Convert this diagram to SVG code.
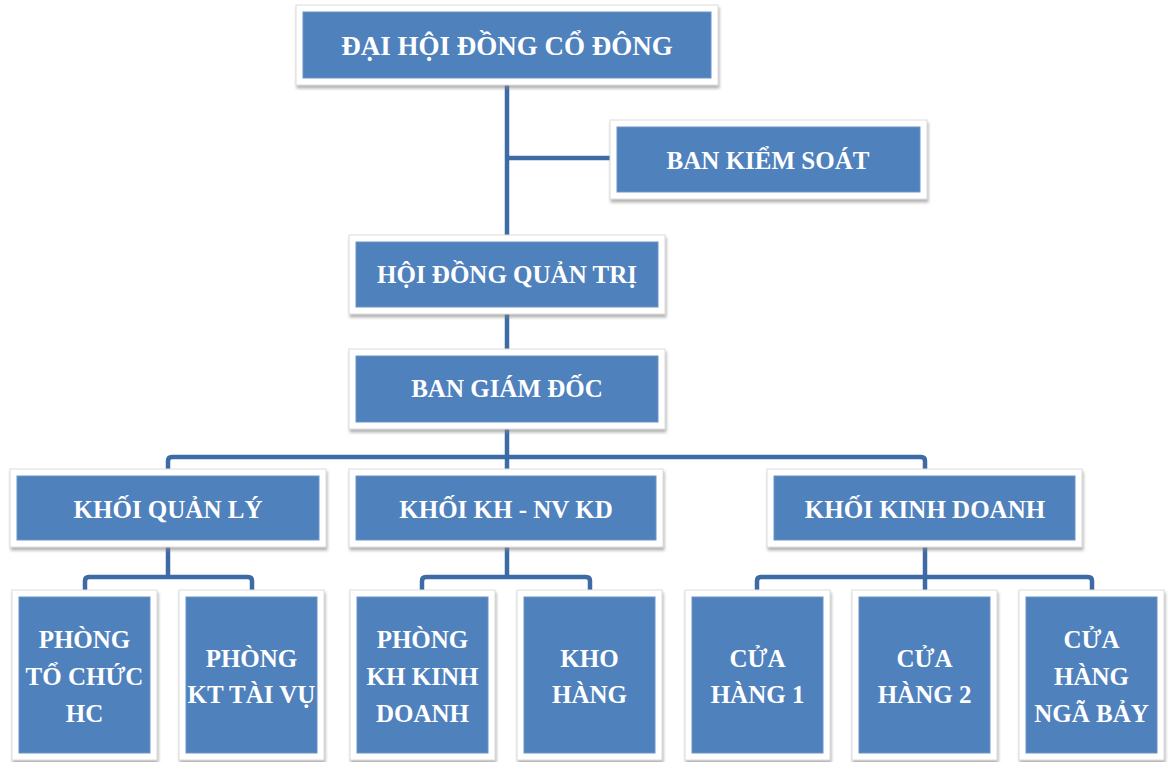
<svg xmlns="http://www.w3.org/2000/svg" width="1170" height="762" viewBox="0 0 1170 762">
<defs>
<filter id="sh" x="-10%" y="-10%" width="120%" height="130%">
<feDropShadow dx="1" dy="3" stdDeviation="1.5" flood-color="#808080" flood-opacity="0.6"/>
</filter>
<style>
.fr{fill:#ffffff;stroke:#dcdcdc;stroke-width:1;filter:url(#sh)}
.bx{fill:#4f81bd;stroke:#6b95c8;stroke-width:1}
.t{fill:#ffffff;font-family:"Liberation Serif","Times New Roman",serif;font-weight:bold;font-size:25px;text-anchor:middle}
.c{fill:none;stroke:#3c6ba5;stroke-width:4.5;stroke-linejoin:round;stroke-linecap:butt}
</style>
</defs>
<rect width="1170" height="762" fill="#ffffff"/>
<g id="connectors">
<path class="c" d="M507,84 V238"/>
<path class="c" d="M507,158 H612"/>
<path class="c" d="M507,312 V352"/>
<path class="c" d="M507,426 V470"/>
<path class="c" d="M168,470 V461 Q168,457 172,457 H921 Q925,457 925,461 V470"/>
<path class="c" d="M168,545 V577"/>
<path class="c" d="M85,592 V581 Q85,577 89,577 H248 Q252,577 252,581 V592"/>
<path class="c" d="M507,545 V577"/>
<path class="c" d="M422,592 V581 Q422,577 426,577 H586 Q590,577 590,581 V592"/>
<path class="c" d="M925,545 V592"/>
<path class="c" d="M757,592 V581 Q757,577 761,577 H1088 Q1092,577 1092,581 V592"/>
</g>
<g id="n1">
<rect class="fr" x="296" y="5" width="422" height="80"/>
<rect class="bx" x="303" y="12" width="408" height="66"/>
<text class="t" x="507" y="55" style="font-size:27px">ĐẠI HỘI ĐỒNG CỔ ĐÔNG</text>
</g>
<g id="n2">
<rect class="fr" x="610" y="120" width="317" height="79"/>
<rect class="bx" x="617" y="127" width="303" height="65"/>
<text class="t" x="768" y="169">BAN KIỂM SOÁT</text>
</g>
<g id="n3">
<rect class="fr" x="349" y="235" width="316" height="79"/>
<rect class="bx" x="356" y="242" width="302" height="65"/>
<text class="t" x="507" y="283">HỘI ĐỒNG QUẢN TRỊ</text>
</g>
<g id="n4">
<rect class="fr" x="349" y="349" width="316" height="80"/>
<rect class="bx" x="356" y="356" width="302" height="66"/>
<text class="t" x="507" y="397">BAN GIÁM ĐỐC</text>
</g>
<g id="n5">
<rect class="fr" x="10" y="469" width="316" height="78"/>
<rect class="bx" x="17" y="476" width="302" height="64"/>
<text class="t" x="168" y="518">KHỐI QUẢN LÝ</text>
</g>
<g id="n6">
<rect class="fr" x="349" y="469" width="314" height="78"/>
<rect class="bx" x="356" y="476" width="300" height="64"/>
<text class="t" x="506" y="518">KHỐI KH - NV KD</text>
</g>
<g id="n7">
<rect class="fr" x="767" y="469" width="315" height="78"/>
<rect class="bx" x="774" y="476" width="301" height="64"/>
<text class="t" x="925" y="518">KHỐI KINH DOANH</text>
</g>
<g id="n8">
<rect class="fr" x="12" y="590" width="145" height="170"/>
<rect class="bx" x="19" y="597" width="131" height="156"/>
<text class="t" x="84.5" y="648">PHÒNG</text>
<text class="t" x="84.5" y="685">TỔ CHỨC</text>
<text class="t" x="84.5" y="722">HC</text>
</g>
<g id="n9">
<rect class="fr" x="179" y="590" width="145" height="170"/>
<rect class="bx" x="186" y="597" width="131" height="156"/>
<text class="t" x="251.5" y="667">PHÒNG</text>
<text class="t" x="251.5" y="703">KT TÀI VỤ</text>
</g>
<g id="n10">
<rect class="fr" x="350" y="590" width="145" height="170"/>
<rect class="bx" x="357" y="597" width="131" height="156"/>
<text class="t" x="422.5" y="648">PHÒNG</text>
<text class="t" x="422.5" y="685">KH KINH</text>
<text class="t" x="422.5" y="722">DOANH</text>
</g>
<g id="n11">
<rect class="fr" x="517" y="590" width="145" height="170"/>
<rect class="bx" x="524" y="597" width="131" height="156"/>
<text class="t" x="589.5" y="667">KHO</text>
<text class="t" x="589.5" y="703">HÀNG</text>
</g>
<g id="n12">
<rect class="fr" x="685" y="590" width="145" height="170"/>
<rect class="bx" x="692" y="597" width="131" height="156"/>
<text class="t" x="757.5" y="667">CỬA</text>
<text class="t" x="757.5" y="703">HÀNG 1</text>
</g>
<g id="n13">
<rect class="fr" x="852" y="590" width="145" height="170"/>
<rect class="bx" x="859" y="597" width="131" height="156"/>
<text class="t" x="924.5" y="667">CỬA</text>
<text class="t" x="924.5" y="703">HÀNG 2</text>
</g>
<g id="n14">
<rect class="fr" x="1019" y="590" width="145" height="170"/>
<rect class="bx" x="1026" y="597" width="131" height="156"/>
<text class="t" x="1091.5" y="648">CỬA</text>
<text class="t" x="1091.5" y="685">HÀNG</text>
<text class="t" x="1091.5" y="722">NGÃ BẢY</text>
</g>
</svg>
